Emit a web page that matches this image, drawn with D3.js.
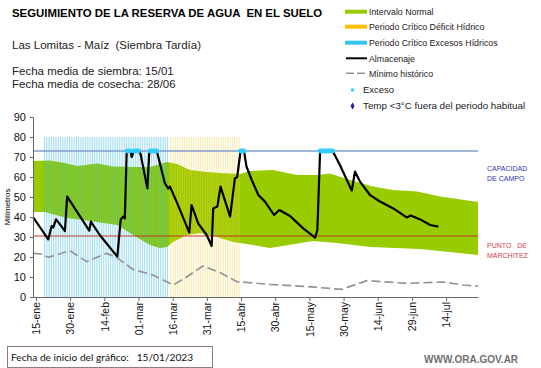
<!DOCTYPE html>
<html>
<head>
<meta charset="utf-8">
<script src="https://cdn.jsdelivr.net/npm/d3@7"></script>
<style>
  body { margin: 0; background: #fff; }
  svg { display: block; font-family: "Liberation Sans", Arial, sans-serif; }
</style>
</head>
<body>
<div id="chart"></div>
<script>
// dia 0 = 15-ene-2023, los valores estan en milimetros
const tickDias = [0, 15, 30, 45, 60, 75, 90, 105, 120, 135, 150, 165, 180];
const tickLabels = ["15-ene", "30-ene", "14-feb", "01-mar", "16-mar", "31-mar", "15-abr",
                    "30-abr", "15-may", "30-may", "14-jun", "29-jun", "14-jul"];
const yTicks = [0, 10, 20, 30, 40, 50, 60, 70, 80, 90];

const almDias = [-1.3, 5.4, 6.9, 7.6, 8.8, 10.2, 12.7, 13.7, 23.4, 24.1, 28, 35.7, 37.2, 38.3, 39.0,
                 39.8, 40.3, 41.5, 42, 43, 45.3, 46, 48.9, 49.7, 50.2, 53, 53.7, 56.6, 58, 58.8,
                 61.7, 67.3, 68.3, 71.2, 74.9, 77.1, 77.8, 79.6, 81, 85.2, 87.3, 88.3, 89.8, 91.3,
                 92.4, 94.7, 97.6, 100.5, 104.5, 106.8, 111.5, 117.3, 122.5, 123.5, 124.7, 130.2,
                 133.4, 138.6, 140, 142.2, 146.6, 151, 156.8, 162.7, 164.5, 168.6, 173, 176.6];
const almValores = [40, 28.8, 35.5, 34.8, 38.8, 36.8, 33, 50.2, 33.2, 37.7, 31, 20.2, 38.8, 40.2, 39.3,
                    71.8, 73, 73, 70, 73, 73, 71, 54.3, 71.8, 73, 73, 70, 56.8, 54.3, 55.2,
                    47.7, 32.2, 46, 36.8, 31, 25.5, 44.3, 45.2, 55.2, 40.2, 59.3, 60, 73, 73,
                    65.2, 58.5, 51, 47.7, 41, 43.5, 40.5, 34.3, 29.7, 33.5, 73, 73,
                    66, 53.2, 62.7, 57.7, 51, 47.7, 44.3, 39.8, 40.8, 38.8, 36, 35.2];

const minDias = [-1.3, 2.5, 5.4, 14.9, 22.2, 31, 35.4, 42.6, 51.4, 60.2, 66.1, 73.3, 80.8, 88.1,
                 102.7, 118.8, 134.2, 145.2, 162.7, 178.8, 187.6, 194];
const minValores = [21.8, 21.5, 19.8, 23.2, 17.7, 21.8, 19.8, 13.8, 11, 6, 10, 15.5, 12.2, 7.7,
                    6.3, 5.2, 3.8, 8.2, 6.8, 7.5, 6, 5.5];

const supDias = [-1.3, 6.1, 12.7, 18, 26.8, 33.8, 42.6, 50, 57.5, 61.9, 67.6, 75.1, 80.8, 89.6,
                 93.9, 104, 114.6, 123.4, 129.1, 137.8, 147.9, 156.7, 167.3, 177.3, 194];
const supValores = [68, 68.3, 67, 65.5, 66.8, 65.2, 65, 65, 67.5, 66.5, 63.5, 62.5, 62, 61.5,
                    63, 63.5, 61, 61, 61.8, 58.5, 55.2, 53.5, 52.7, 50.2, 47.5];
const infDias = [-1.3, 3.9, 13.6, 23.7, 35.6, 42.6, 50, 54.4, 57.5, 60.1, 66.3, 72, 79.5, 86.5,
                 95.3, 102.7, 121.6, 132.2, 146.6, 168.6, 194];
const infValores = [42.5, 42.5, 39.5, 38, 36, 31, 26, 24.5, 25, 27.5, 31, 32, 30, 27.5,
                    26, 24.5, 28, 27, 25, 24, 21];

const excesoDias = [40, 40.6, 41.2, 43, 43.6, 44.3, 45, 50.2, 50.9, 51.6, 52.3, 53, 89.8, 90.5, 91.2,
                    124.7, 125.4, 126.1, 126.8, 127.5, 128.2, 128.9, 129.6, 130.2];
const excesoValor = 73;

const periodoExcesos = [3.5, 57.6];
const periodoDeficit = [58.9, 89.3];
const alturaPeriodo = 80;
const capacidadCampo = 73;
const puntoMarchitez = 30.5;

const colores = {
    normal: "#99cc00",
    excesos: "#29b6e0",
    deficit: "#f5d040",
    capacidad: "#7f9ccc",
    marchitez: "#c0392b",
    minimo: "#949494",
    exceso: "#33ccff",
    temp: "#1f1fa8"
};

const width = 541, height = 368;
const svg = d3.select("#chart").append("svg")
    .attr("width", width)
    .attr("height", height);

const x = d3.scaleLinear().domain([-1.3, 194]).range([33, 478]);
const y = d3.scaleLinear().domain([0, 90]).range([297, 117]);

// banda del intervalo normal
const sup = supDias.map((d, i) => [d, supValores[i]]);
const inf = infDias.map((d, i) => [d, infValores[i]]).reverse();
const lineaXY = d3.line().x(d => x(d[0])).y(d => y(d[1]));
svg.append("path")
    .attr("d", lineaXY(sup.concat(inf)) + "Z")
    .attr("fill", colores.normal);

// periodos criticos como rayas verticales
function rayas(periodo, color, opacidad) {
    svg.append("g")
        .selectAll("rect")
        .data(d3.range(periodo[0], periodo[1], 1))
        .join("rect")
        .attr("x", d => x(d))
        .attr("y", y(alturaPeriodo))
        .attr("width", 1.2)
        .attr("height", y(0) - y(alturaPeriodo))
        .attr("fill", color)
        .attr("fill-opacity", opacidad);
}
rayas(periodoExcesos, colores.excesos, 0.42);
rayas(periodoDeficit, colores.deficit, 0.38);

// lineas de referencia
svg.append("line")
    .attr("x1", x.range()[0]).attr("x2", x.range()[1])
    .attr("y1", y(capacidadCampo)).attr("y2", y(capacidadCampo))
    .attr("stroke", colores.capacidad).attr("stroke-width", 1.3);
svg.append("line")
    .attr("x1", x.range()[0]).attr("x2", x.range()[1])
    .attr("y1", y(puntoMarchitez)).attr("y2", y(puntoMarchitez))
    .attr("stroke", colores.marchitez).attr("stroke-width", 1.2);

// minimo historico
svg.append("path")
    .datum(minDias.map((d, i) => [d, minValores[i]]))
    .attr("d", lineaXY)
    .attr("fill", "none")
    .attr("stroke", colores.minimo)
    .attr("stroke-width", 1.7)
    .attr("stroke-dasharray", "9,4");

// almacenaje
svg.append("path")
    .datum(almDias.map((d, i) => [d, almValores[i]]))
    .attr("d", lineaXY)
    .attr("fill", "none")
    .attr("stroke", "#000")
    .attr("stroke-width", 2.2)
    .attr("stroke-linejoin", "round");

svg.append("g")
    .selectAll("circle")
    .data(excesoDias)
    .join("circle")
    .attr("cx", d => x(d))
    .attr("cy", y(excesoValor))
    .attr("r", 2.4)
    .attr("fill", colores.exceso);

// ejes
const ejeY = svg.append("g")
    .attr("transform", `translate(${x.range()[0]},0)`)
    .call(d3.axisLeft(y).tickValues(yTicks).tickSize(3).tickPadding(4));
ejeY.selectAll("text").attr("font-size", 11).attr("fill", "#111").attr("font-family", null);

const ejeX = svg.append("g")
    .attr("transform", `translate(0,${y(0)})`)
    .call(d3.axisBottom(x).tickValues(tickDias).tickFormat((d, i) => tickLabels[i]).tickSize(4).tickSizeOuter(0));
ejeX.selectAll("text")
    .attr("font-size", 10.5)
    .attr("fill", "#111")
    .attr("font-family", null)
    .attr("transform", "rotate(-90)")
    .attr("text-anchor", "end")
    .attr("x", -5)
    .attr("y", 0)
    .attr("dy", "0.35em");
[ejeY, ejeX].forEach(g => {
    g.select(".domain").attr("stroke", "#666");
    g.selectAll(".tick line").attr("stroke", "#666");
});

svg.append("text")
    .attr("transform", "translate(10,207) rotate(-90)")
    .attr("text-anchor", "middle")
    .attr("font-size", 8)
    .text("Milímetros");

// textos de cabecera
svg.append("text").attr("x", 12).attr("y", 17)
    .attr("font-size", 11.4).attr("font-weight", "bold")
    .style("white-space", "pre")
    .text("SEGUIMIENTO DE LA RESERVA DE AGUA  EN EL SUELO");
svg.append("text").attr("x", 12).attr("y", 49)
    .attr("font-size", 11.5).attr("fill", "#222")
    .style("white-space", "pre")
    .text("Las Lomitas - Maíz  (Siembra Tardía)");
svg.append("text").attr("x", 12).attr("y", 75)
    .attr("font-size", 11.5).attr("fill", "#222")
    .text("Fecha media de siembra: 15/01");
svg.append("text").attr("x", 12).attr("y", 88)
    .attr("font-size", 11.5).attr("fill", "#222")
    .text("Fecha media de cosecha: 28/06");

// etiquetas a la derecha
const etiquetas = [
    {lineas: ["CAPACIDAD", "DE CAMPO"], y0: 171, color: "#3535b5"},
    {lineas: ["PUNTO   DE", "MARCHITEZ"], y0: 248, color: "#d0404a"}
];
etiquetas.forEach(e => {
    e.lineas.forEach((t, i) => {
        svg.append("text")
            .attr("x", 487).attr("y", e.y0 + i * 9.5)
            .attr("font-size", 7).attr("fill", e.color)
            .style("white-space", "pre")
            .text(t);
    });
});

// leyenda
const leyenda = svg.append("g").attr("fill", "#222");
const filas = [
    {tipo: "rect", color: colores.normal, texto: "Intervalo Normal", cy: 11.7},
    {tipo: "rect", color: "#ffc000", texto: "Periodo Crítico Déficit Hídrico", cy: 26.7},
    {tipo: "rect", color: "#33c6f0", texto: "Periodo Crítico Excesos Hídricos", cy: 42.7},
    {tipo: "line", color: "#000", texto: "Almacenaje", cy: 58.3},
    {tipo: "dash", color: colores.minimo, texto: "Mínimo histórico", cy: 73.3},
    {tipo: "punto", color: colores.exceso, texto: "Exceso", cy: 90},
    {tipo: "rombo", color: colores.temp, texto: "Temp <3°C fuera del periodo habitual", cy: 106}
];
filas.forEach(f => {
    let tx = 369, fs = 8.8;
    if (f.tipo === "rect") {
        leyenda.append("rect").attr("x", 345).attr("y", f.cy - 2).attr("width", 22).attr("height", 4)
            .attr("fill", f.color);
    } else if (f.tipo === "line") {
        leyenda.append("line").attr("x1", 346).attr("x2", 367).attr("y1", f.cy).attr("y2", f.cy)
            .attr("stroke", f.color).attr("stroke-width", 2);
    } else if (f.tipo === "dash") {
        leyenda.append("line").attr("x1", 346).attr("x2", 367).attr("y1", f.cy).attr("y2", f.cy)
            .attr("stroke", f.color).attr("stroke-width", 1.5).attr("stroke-dasharray", "8,3");
    } else if (f.tipo === "punto") {
        leyenda.append("rect").attr("x", 351).attr("y", f.cy - 1.5).attr("width", 3).attr("height", 3)
            .attr("fill", f.color);
        tx = 363; fs = 9.5;
    } else {
        leyenda.append("path").attr("d", d3.symbol(d3.symbolDiamond, 14)())
            .attr("transform", `translate(352.5,${f.cy})`)
            .attr("fill", f.color);
        tx = 363; fs = 9.8;
    }
    leyenda.append("text").attr("x", tx).attr("y", f.cy + 3.2).attr("font-size", fs).text(f.texto);
});

// pie
svg.append("rect")
    .attr("x", 7.5).attr("y", 346.5).attr("width", 205).attr("height", 21)
    .attr("fill", "none").attr("stroke", "#8d7a86").attr("stroke-width", 1);
svg.append("text").attr("x", 11).attr("y", 361)
    .attr("font-family", "Lato, sans-serif").attr("font-size", 10.2).attr("fill", "#111")
    .style("white-space", "pre")
    .text("Fecha de inicio del gráfico:   15/01/2023");
svg.append("text").attr("x", 424).attr("y", 363)
    .attr("font-size", 10).attr("font-weight", "bold").attr("fill", "#707070")
    .text("WWW.ORA.GOV.AR");
</script>
</body>
</html>
